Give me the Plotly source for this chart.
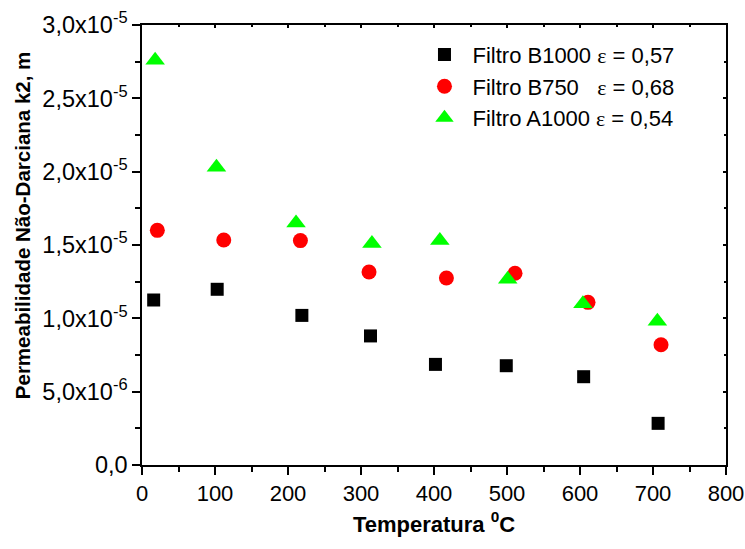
import plotly.graph_objects as go

# Data
x_b1000 = [16, 103, 219, 313, 402, 499, 605, 707]
y_b1000 = [1.125e-5, 1.198e-5, 1.02e-5, 0.88e-5, 0.686e-5, 0.677e-5, 0.602e-5, 0.284e-5]

x_b750 = [21, 112, 217, 311, 417, 511, 611, 711]
y_b750 = [1.60e-5, 1.534e-5, 1.53e-5, 1.316e-5, 1.275e-5, 1.307e-5, 1.109e-5, 0.82e-5]

x_a1000 = [18, 102, 211, 315, 408, 501, 604, 706]
y_a1000 = [2.76e-5, 2.03e-5, 1.65e-5, 1.51e-5, 1.53e-5, 1.266e-5, 1.10e-5, 0.98e-5]

EPS = "<span style=\"font-family:'Liberation Serif'\">\u03b5</span>"
names = ["Filtro B1000 " + EPS + " = 0,57",
         "Filtro B750\u00a0\u00a0\u00a0" + EPS + " = 0,68",
         "Filtro A1000 " + EPS + " = 0,54"]

y_tickvals = [0, 5e-6, 1e-5, 1.5e-5, 2e-5, 2.5e-5, 3e-5]
y_ticktext = ["0,0", "5,0x10<sup>-6</sup>", "1,0x10<sup>-5</sup>", "1,5x10<sup>-5</sup>",
              "2,0x10<sup>-5</sup>", "2,5x10<sup>-5</sup>", "3,0x10<sup>-5</sup>"]
x_tickvals = [0, 100, 200, 300, 400, 500, 600, 700, 800]

y_title = "<b>Permeabilidade Não-Darciana k2, m</b>"
x_title = "<b>Temperatura <sup>0</sup>C</b>"

FONT = "Liberation Sans, Arial, sans-serif"

fig = go.Figure()
fig.add_trace(go.Scatter(x=x_b1000, y=y_b1000, mode="markers", name=names[0],
                         marker=dict(symbol="square", size=13, color="#000000")))
fig.add_trace(go.Scatter(x=x_b750, y=y_b750, mode="markers", name=names[1],
                         marker=dict(symbol="circle", size=15, color="#FF0000")))
fig.add_trace(go.Scatter(x=x_a1000, y=y_a1000, mode="markers", name=names[2],
                         marker=dict(symbol="triangle-up", size=17, color="#00FF00")))
# empty trace to activate mirror axes with inward ticks
fig.add_trace(go.Scatter(x=[], y=[], xaxis="x2", yaxis="y2", showlegend=False,
                         hoverinfo="skip"))

fig.update_layout(
    width=745, height=549,
    margin=dict(l=142, r=19, t=25, b=84, autoexpand=False),
    paper_bgcolor="white", plot_bgcolor="white",
    font=dict(family=FONT, size=22, color="black"),
    showlegend=True,
    legend=dict(x=0.47, y=0.98, xanchor="left", yanchor="top",
                bgcolor="rgba(0,0,0,0)", font=dict(size=22, family=FONT),
                itemwidth=46, tracegroupgap=0),
    xaxis=dict(range=[0, 800], tickvals=x_tickvals, ticks="outside", ticklen=8,
               tickwidth=1.5, tickcolor="black", showline=True, linecolor="black",
               linewidth=1.5, mirror=True, showgrid=False, zeroline=False,
               tickfont=dict(size=22, family=FONT), ticklabeloverflow="allow",
               minor=dict(dtick=50, ticks="outside", ticklen=5, tickwidth=1.5,
                          tickcolor="black", showgrid=False),
               title=dict(text=x_title, font=dict(size=22, family=FONT), standoff=11)),
    yaxis=dict(range=[0, 3e-5], tickvals=y_tickvals, ticktext=y_ticktext,
               ticks="outside", ticklen=8, tickwidth=1.5, tickcolor="black",
               showline=True, linecolor="black", linewidth=1.5, mirror=True,
               showgrid=False, zeroline=False, tickfont=dict(size=23.5, family=FONT),
               ticklabeloverflow="allow",
               minor=dict(dtick=2.5e-6, ticks="outside", ticklen=5, tickwidth=1.5,
                          tickcolor="black", showgrid=False)),
    xaxis2=dict(overlaying="x", side="top", range=[0, 800], tickvals=x_tickvals,
                ticks="inside", ticklen=3, tickwidth=1.5, tickcolor="black",
                showticklabels=False, showline=False, showgrid=False, zeroline=False,
                minor=dict(dtick=50, ticks="inside", ticklen=2, tickwidth=1.5,
                           tickcolor="black")),
    yaxis2=dict(overlaying="y", side="right", anchor="x2", range=[0, 3e-5],
                tickvals=y_tickvals, ticks="inside", ticklen=3, tickwidth=1.5,
                tickcolor="black", showticklabels=False, showline=False,
                showgrid=False, zeroline=False,
                minor=dict(dtick=2.5e-6, ticks="inside", ticklen=2, tickwidth=1.5,
                           tickcolor="black")),
    annotations=[dict(text=y_title, xref="paper", yref="paper", x=-0.2055, y=0.545,
                      xanchor="center", yanchor="middle", textangle=-90,
                      showarrow=False, font=dict(size=20.5, family=FONT))],
)

fig.write_html("out.html")
